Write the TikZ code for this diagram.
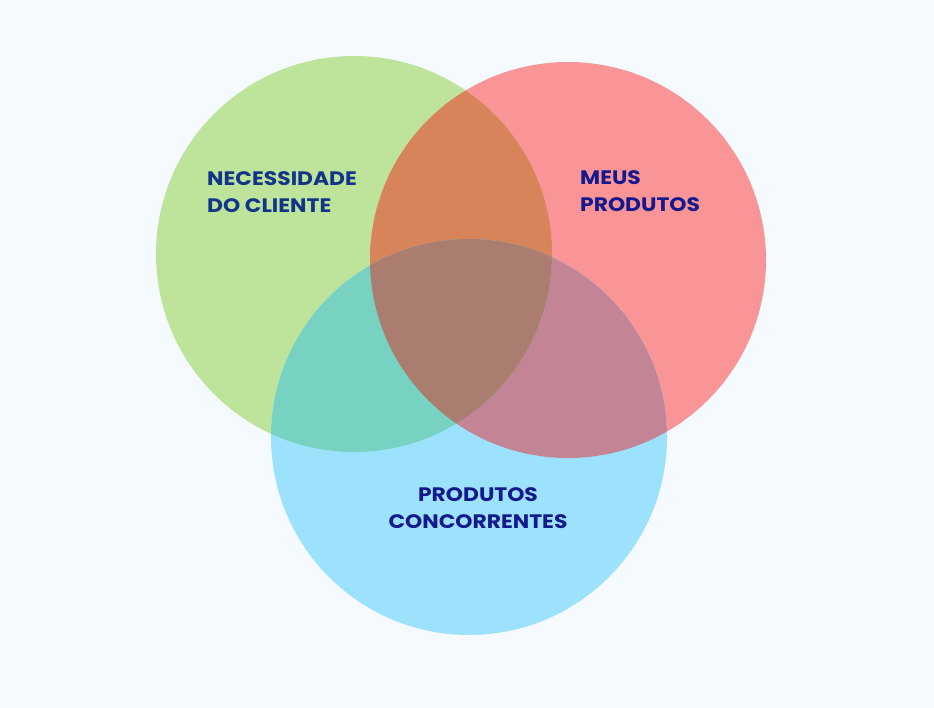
\documentclass[tikz,border=0pt]{standalone}
\usepackage{fontspec}
\setmainfont{Poppins}[FakeStretch=1.12]
\usepackage{tikz}

\definecolor{fundo}{HTML}{F5FAFE}
\definecolor{verde}{HTML}{BEE39A}
\definecolor{vermelho}{HTML}{F99497}
\definecolor{azul}{HTML}{9DE2FD}
\definecolor{laranja}{HTML}{D8845A}
\definecolor{turquesa}{HTML}{78D2C1}
\definecolor{malva}{HTML}{C38595}
\definecolor{centro}{HTML}{AA7D70}
\definecolor{textoA}{HTML}{12358A}
\definecolor{textoB}{HTML}{14198C}

\begin{document}
\begin{tikzpicture}[x=1pt,y=-1pt,
rotulo/.style={inner sep=0pt,font=\fontsize{19.5}{27}\selectfont\bfseries}]
\useasboundingbox (0,0) rectangle (934,708);
\fill[fundo] (0,0) rectangle (934,708);
\coordinate (G) at (354,254);
\coordinate (R) at (568,260);
\coordinate (B) at (469,437);
% circulos
\fill[verde] (G) circle (198pt);
\fill[vermelho] (R) circle (198pt);
\fill[azul] (B) circle (198pt);
% intersecoes
\begin{scope}
\clip (R) circle (198pt);
\fill[malva] (B) circle (198pt);
\end{scope}
\begin{scope}
\clip (G) circle (198pt);
\fill[laranja] (R) circle (198pt);
\fill[turquesa] (B) circle (198pt);
\clip (R) circle (198pt);
\fill[centro] (B) circle (198pt);
\end{scope}
% textos (ancora na linha de base da ultima linha)
\node[rotulo,textoA,anchor=base west,align=left] (necessidade) at (207,213) {NECESSIDADE\\DO CLIENTE};
\node[rotulo,textoB,anchor=base west,align=left] (meus) at (580,212) {MEUS\\PRODUTOS};
\node[rotulo,textoB,anchor=base,align=center] (concorrentes) at (478,528) {PRODUTOS\\CONCORRENTES};
\end{tikzpicture}
\end{document}
